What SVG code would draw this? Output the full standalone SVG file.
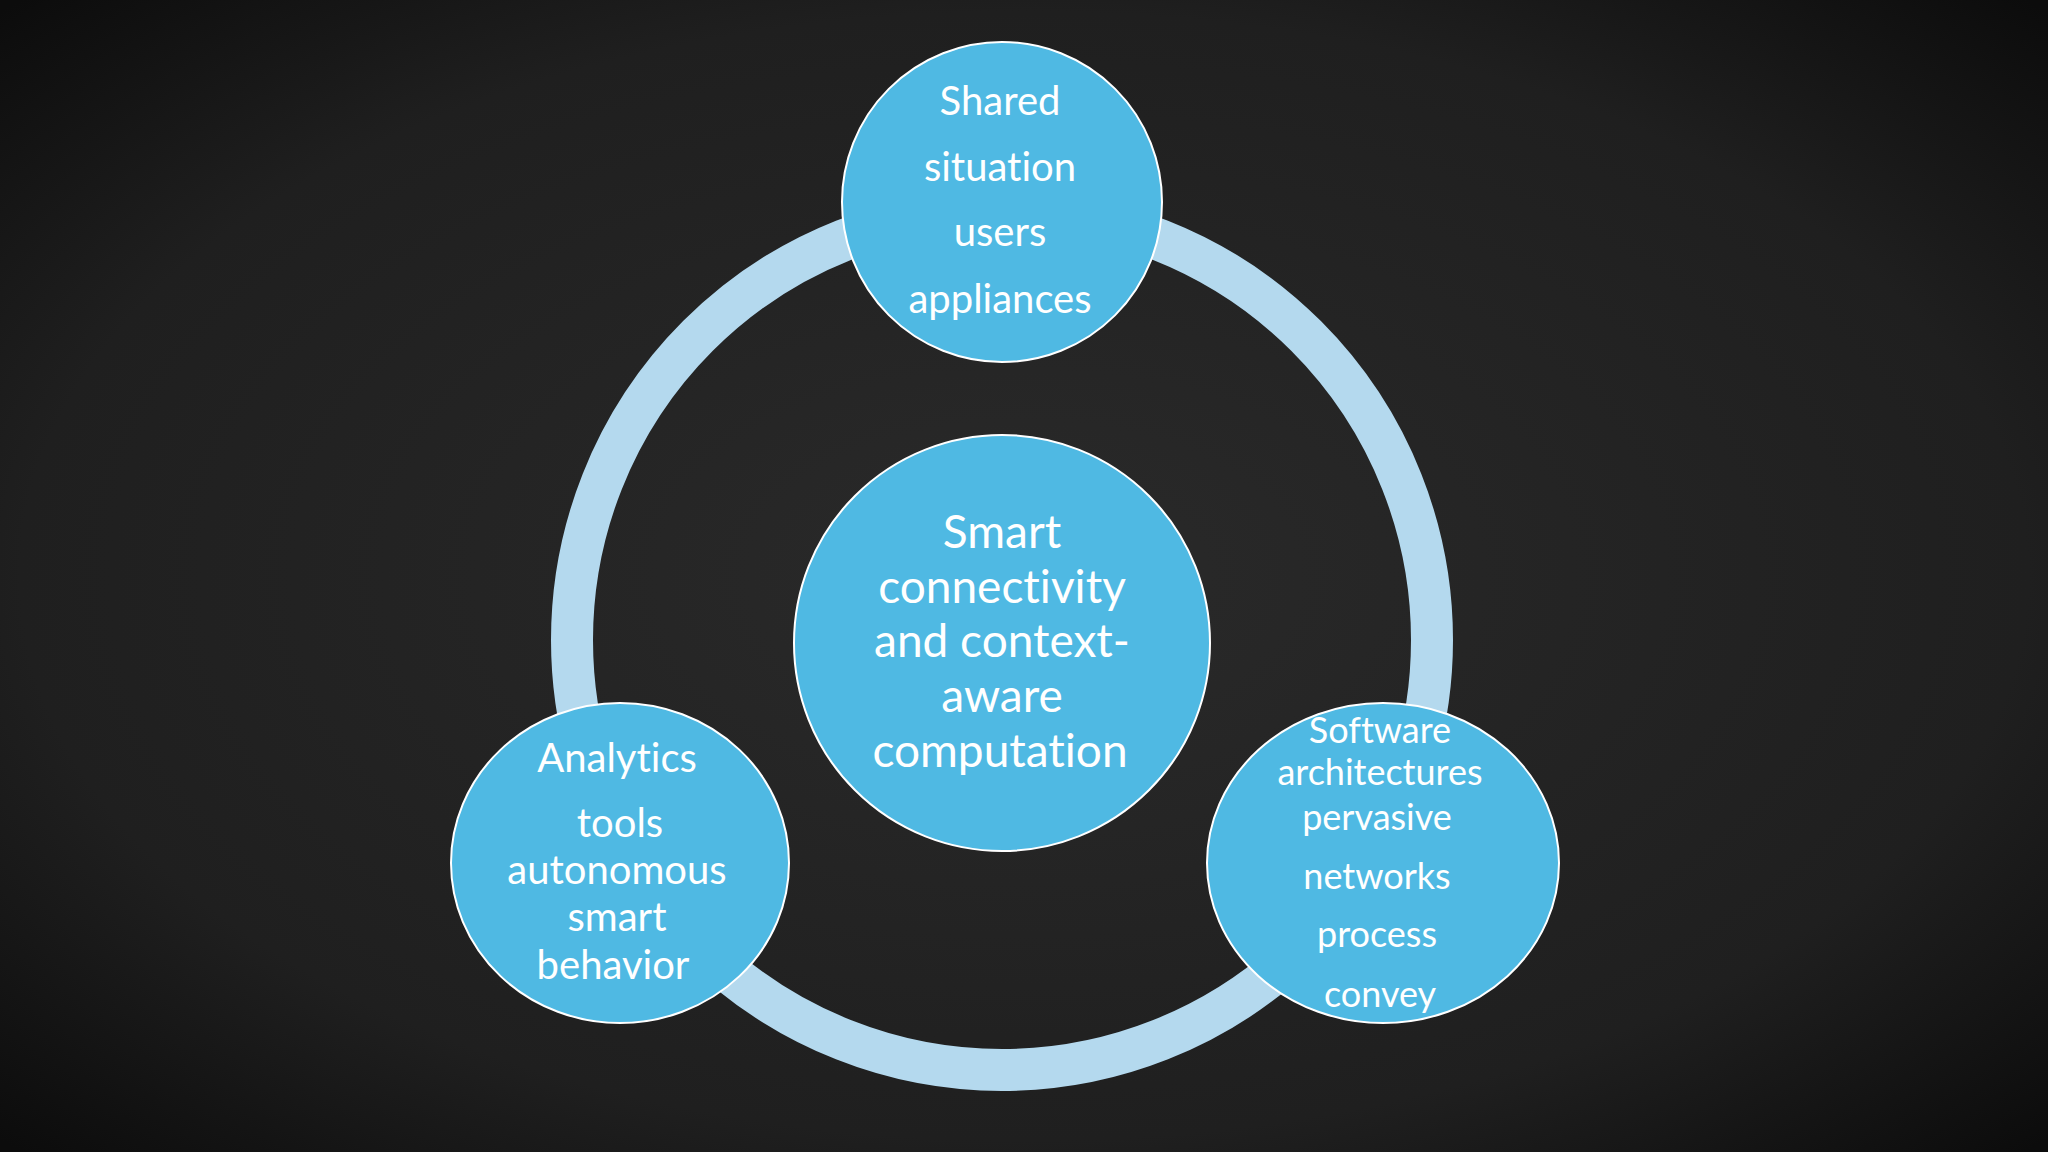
<svg xmlns="http://www.w3.org/2000/svg" width="2048" height="1152" viewBox="0 0 2048 1152">
<defs>
<radialGradient id="bg" cx="50%" cy="50%" r="70%">
<stop offset="0" stop-color="#2a2a2a"/><stop offset="0.7" stop-color="#1f1f1f"/><stop offset="1" stop-color="#0c0c0c"/>
</radialGradient>
<style>
.n{fill:#4fb9e3;stroke:#ffffff;stroke-width:2}
.t{font-family:Lato,"Open Sans",sans-serif;fill:#ffffff;text-anchor:middle;font-variant-ligatures:none;font-feature-settings:"liga" 0}
</style>
</defs>
<rect width="2048" height="1152" fill="url(#bg)"/>
<g id="connectors">
<circle cx="1002" cy="640" r="430" fill="none" stroke="#b4d9ee" stroke-width="42"/>
</g>
<g id="top">
<circle class="n" cx="1002" cy="202" r="160"/>
<text class="t" font-size="40"><tspan x="1000" y="115">Shared</tspan><tspan x="1000" y="181">situation</tspan><tspan x="1000" y="246">users</tspan><tspan x="1000" y="313">appliances</tspan></text>
</g>
<g id="center">
<circle class="n" cx="1002" cy="643" r="208"/>
<text class="t" font-size="46"><tspan x="1002" y="548">Smart</tspan><tspan x="1002" y="603">connectivity</tspan><tspan x="1002" y="657">and context-</tspan><tspan x="1002" y="712">aware</tspan><tspan x="1000" y="767">computation</tspan></text>
</g>
<g id="left">
<ellipse class="n" cx="620" cy="863" rx="169" ry="160"/>
<text class="t" font-size="40"><tspan x="617" y="772">Analytics</tspan><tspan x="620" y="837">tools</tspan><tspan x="617" y="884">autonomous</tspan><tspan x="617" y="931">smart</tspan><tspan x="613" y="979">behavior</tspan></text>
</g>
<g id="right">
<ellipse class="n" cx="1383" cy="863" rx="176" ry="160"/>
<text class="t" font-size="36"><tspan x="1380" y="743">Software</tspan><tspan x="1380" y="785">architectures</tspan><tspan x="1377" y="830">pervasive</tspan><tspan x="1377" y="889">networks</tspan><tspan x="1377" y="947">process</tspan><tspan x="1380" y="1007">convey</tspan></text>
</g>
</svg>
